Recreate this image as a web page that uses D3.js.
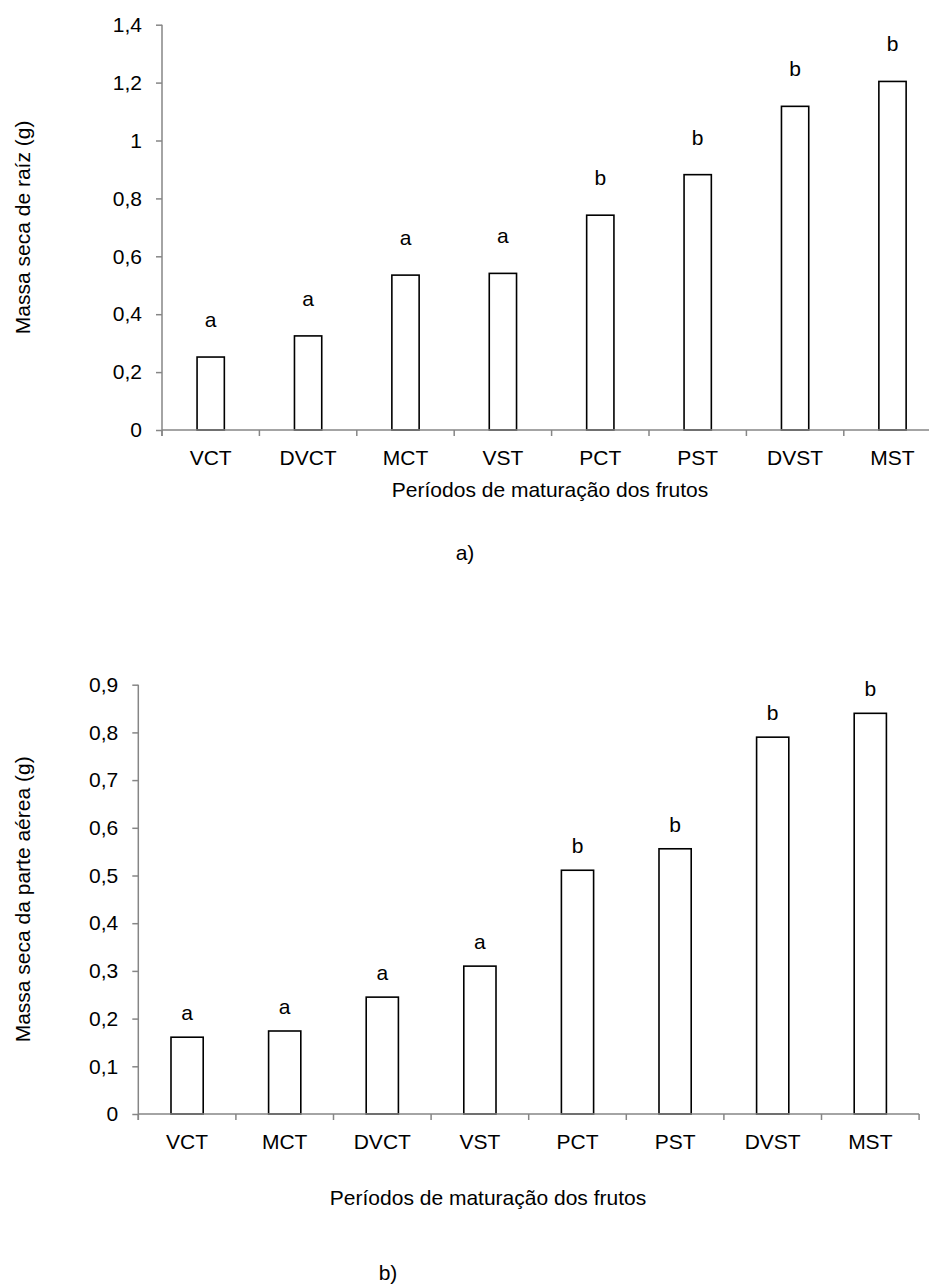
<!DOCTYPE html>
<html>
<head>
<meta charset="utf-8">
<script src="https://cdn.jsdelivr.net/npm/d3@7"></script>
<style>
  body { margin: 0; background: #fff; }
  svg { display: block; font-family: "Liberation Sans", Arial, sans-serif; }
  .axis path, .axis line { stroke: #868686; stroke-width: 1.5; }
  .axis text { fill: #000; font-size: 21px; }
  .bar { fill: #fff; stroke: #000; stroke-width: 1.6; }
  .letter, .title, .panel { fill: #000; font-size: 21px; }
</style>
</head>
<body>
<div id="chart"></div>
<script>
// panel a) - root dry mass
var catsA = ["VCT", "DVCT", "MCT", "VST", "PCT", "PST", "DVST", "MST"];
var valsA = [0.252, 0.325, 0.535, 0.541, 0.742, 0.882, 1.118, 1.204];
var lettersA = ["a", "a", "a", "a", "b", "b", "b", "b"];
var ticksA = [0, 0.2, 0.4, 0.6, 0.8, 1, 1.2, 1.4];
var tickLabelsA = ["0", "0,2", "0,4", "0,6", "0,8", "1", "1,2", "1,4"];

// panel b) - shoot dry mass
var catsB = ["VCT", "MCT", "DVCT", "VST", "PCT", "PST", "DVST", "MST"];
var valsB = [0.161, 0.174, 0.245, 0.310, 0.511, 0.556, 0.790, 0.840];
var lettersB = ["a", "a", "a", "a", "b", "b", "b", "b"];
var ticksB = [0, 0.1, 0.2, 0.3, 0.4, 0.5, 0.6, 0.7, 0.8, 0.9];
var tickLabelsB = ["0", "0,1", "0,2", "0,3", "0,4", "0,5", "0,6", "0,7", "0,8", "0,9"];

var xTitle = "Períodos de maturação dos frutos";

var svg = d3.select("#chart").append("svg")
    .attr("width", 929)
    .attr("height", 1286);

function drawPanel(opt) {
    var data = opt.cats.map((c, i) => { return { cat: c, value: opt.vals[i], letter: opt.letters[i] }; });

    var x = d3.scaleBand()
        .domain(opt.cats)
        .range([opt.left, opt.left + opt.band * opt.cats.length]);
    var y = d3.scaleLinear()
        .domain([0, d3.max(opt.ticks)])
        .range([opt.bottom, opt.top]);

    var g = svg.append("g");
    var bw = x.bandwidth() * opt.barFrac;

    g.selectAll(".bar")
        .data(data)
        .enter().append("rect")
        .attr("class", "bar")
        .attr("x", d => { return x(d.cat) + (x.bandwidth() - bw) / 2; })
        .attr("width", bw)
        .attr("y", d => { return y(d.value); })
        .attr("height", d => { return opt.bottom - y(d.value); });

    g.selectAll(".letter")
        .data(data)
        .enter().append("text")
        .attr("class", "letter")
        .attr("text-anchor", "middle")
        .attr("x", d => { return x(d.cat) + x.bandwidth() / 2; })
        .attr("y", d => { return y(d.value) - opt.letterGap; })
        .text(d => { return d.letter; });

    // x axis: ticks between categories, labels centred under bars
    var xAxis = g.append("g")
        .attr("class", "axis")
        .attr("transform", "translate(0," + opt.bottom + ")");
    xAxis.append("path")
        .attr("d", "M" + x.range()[0] + ",0H" + x.range()[1]);
    xAxis.selectAll("line")
        .data(opt.cats.map(c => x(c)).concat([x.range()[1]]))
        .enter().append("line")
        .attr("x1", d => d).attr("x2", d => d)
        .attr("y1", 0).attr("y2", 6);
    xAxis.selectAll("text")
        .data(opt.cats)
        .enter().append("text")
        .attr("text-anchor", "middle")
        .attr("x", d => { return x(d) + x.bandwidth() / 2; })
        .attr("y", 35)
        .text(d => d);

    var yAxis = d3.axisLeft(y)
        .tickValues(opt.ticks)
        .tickFormat((d, i) => { return opt.tickLabels[i]; })
        .tickSize(6)
        .tickSizeOuter(0)
        .tickPadding(14);
    g.append("g")
        .attr("class", "axis")
        .attr("transform", "translate(" + opt.left + ",0)")
        .call(yAxis)
        .call(s => s.select(".domain").attr("d", "M0," + (opt.bottom + 6) + "V" + opt.top));
    g.selectAll(".axis text").attr("font-size", null).attr("font-family", null);

    g.append("text")
        .attr("class", "title")
        .attr("text-anchor", "middle")
        .attr("transform", "translate(" + opt.yTitleX + "," + ((opt.top + opt.bottom) / 2) + ") rotate(-90)")
        .text(opt.yTitle);

    g.append("text")
        .attr("class", "title")
        .attr("text-anchor", "middle")
        .attr("x", opt.xTitleX)
        .attr("y", opt.xTitleY)
        .text(xTitle);

    g.append("text")
        .attr("class", "panel")
        .attr("text-anchor", "middle")
        .attr("x", opt.panelX)
        .attr("y", opt.panelY)
        .text(opt.panel);
}

drawPanel({
    cats: catsA, vals: valsA, letters: lettersA, ticks: ticksA, tickLabels: tickLabelsA,
    left: 162, top: 24.7, bottom: 430, band: 97.4, barFrac: 0.28, letterGap: 30,
    yTitle: "Massa seca de raíz  (g)", yTitleX: 30,
    xTitleX: 550, xTitleY: 497,
    panel: "a)", panelX: 465, panelY: 560
});

drawPanel({
    cats: catsB, vals: valsB, letters: lettersB, ticks: ticksB, tickLabels: tickLabelsB,
    left: 138.3, top: 684.7, bottom: 1114, band: 97.6, barFrac: 0.33, letterGap: 17,
    yTitle: "Massa seca da parte aérea (g)", yTitleX: 30,
    xTitleX: 488, xTitleY: 1205,
    panel: "b)", panelX: 388, panelY: 1280
});
</script>
</body>
</html>
